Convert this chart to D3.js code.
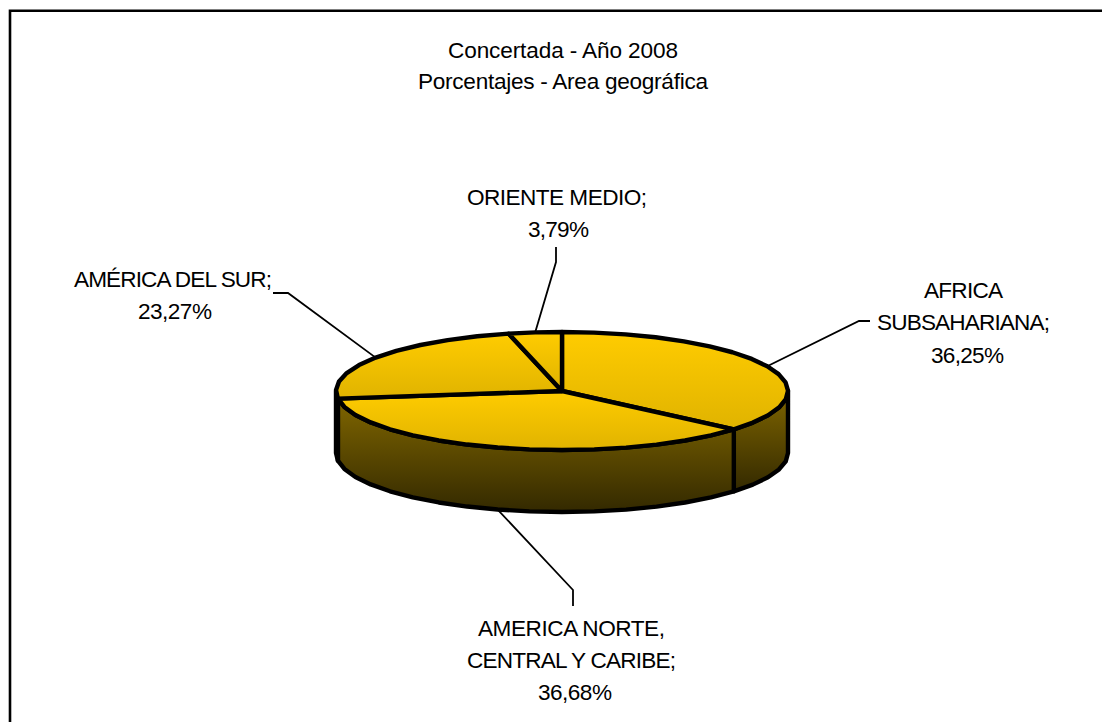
<!DOCTYPE html>
<html><head><meta charset="utf-8">
<script src="https://cdn.jsdelivr.net/npm/d3@7"></script>
<style>html,body{margin:0;padding:0;background:#fff;overflow:hidden}svg{display:block}text{font-family:"Liberation Sans",Arial,sans-serif;font-size:22.6px;fill:#000}</style>
</head><body><svg id="c" width="1102" height="722"></svg>
<script>
const categories = ["AFRICA SUBSAHARIANA", "AMERICA NORTE, CENTRAL Y CARIBE", "AMÉRICA DEL SUR", "ORIENTE MEDIO"];
const values = [36.25, 36.68, 23.27, 3.79];
const titleLines = ["Concertada - Año 2008", "Porcentajes - Area geográfica"];
const labelLines = [
  ["AFRICA", "SUBSAHARIANA;"],
  ["AMERICA NORTE,", "CENTRAL Y CARIBE;"],
  ["AMÉRICA DEL SUR;"],
  ["ORIENTE MEDIO;"]
];
// layout, separate from the data
const cx = 562, cy = 391, rx = 226, ry = 59, depth = 62;
const titleBoxes = [[448, 58, 230], [418, 89, 290]];
const labelBoxes = [
  [[924, 298, 79], [877, 330, 173], [931, 363, 73]],
  [[478, 636, 187], [467, 668, 209], [538, 700, 74]],
  [[74, 287, 198], [138, 319, 74]],
  [[467, 205, 180], [528, 237, 61]]
];
// leader: elbow then end of the line, the start lies on the pie edge
const leaders = [[[859, 321], [870, 321]], [[573, 590], [573, 606]], [[288, 293], [273, 293]], [[556, 262], [556, 247]]];

const svg = d3.select("#c");
const defs = svg.append("defs");
function grad(id, a, b) {
  const g = defs.append("linearGradient").attr("id", id).attr("x1", 0).attr("y1", 0).attr("x2", 0).attr("y2", 1);
  g.append("stop").attr("offset", 0).attr("stop-color", a);
  g.append("stop").attr("offset", 1).attr("stop-color", b);
}
grad("top", "#ffcc00", "#e0b300");
grad("side", "#806600", "#332900");

svg.append("path").attr("d", "M10 730V10.7H1110").attr("fill", "none").attr("stroke", "#000").attr("stroke-width", 2.6);

const arcs = d3.pie().sort(null).sortValues(null).value(d => d)(values);
const px = d3.scaleLinear().domain([-1, 1]).range([cx - rx, cx + rx]);
const py = d3.scaleLinear().domain([-1, 1]).range([cy - ry, cy + ry]);
const pt = (a, dz = 0) => [px(Math.sin(a)), py(-Math.cos(a)) + dz];
const line = d3.line();
function sample(a0, a1, dz) {
  const n = Math.max(1, Math.round(Math.abs(a1 - a0) / (Math.PI / 22)));
  return d3.range(n + 1).map(i => pt(a0 + (a1 - a0) * i / n, dz));
}
const R = Math.PI / 2, L = 3 * Math.PI / 2;
const stroke = s => s.attr("stroke", "#000").attr("stroke-width", 4.4).attr("stroke-linejoin", "round");

// sides
arcs.forEach(d => {
  const a0 = Math.max(d.startAngle, R), a1 = Math.min(d.endAngle, L);
  if (a1 <= a0) return;
  const pts = sample(a0, a1, 0).concat(sample(a1, a0, depth));
  svg.append("path").attr("d", line(pts) + "Z").attr("fill", "url(#side)").call(stroke);
});
// leaders under the pie edge
arcs.forEach((d, i) => {
  const mid = (d.startAngle + d.endAngle) / 2;
  const front = mid > R && mid < L;
  svg.append("path").attr("d", line([pt(mid, front ? depth : 0), ...leaders[i]]))
    .attr("fill", "none").attr("stroke", "#000").attr("stroke-width", 1.8);
});
// top faces
arcs.forEach(d => {
  const pts = [[cx, cy]].concat(sample(d.startAngle, d.endAngle, 0));
  svg.append("path").attr("d", line(pts) + "Z").attr("fill", "url(#top)").call(stroke);
});
function put(str, box) {
  svg.append("text").attr("x", box[0]).attr("y", box[1])
    .attr("textLength", box[2]).attr("lengthAdjust", "spacing").text(str);
}
titleLines.forEach((t, i) => put(t, titleBoxes[i]));
const fmt = v => v.toFixed(2).replace(".", ",") + "%";
categories.forEach((c, i) => {
  const lines = labelLines[i].concat(fmt(values[i]));
  lines.forEach((t, j) => put(t, labelBoxes[i][j]));
});
</script></body></html>
